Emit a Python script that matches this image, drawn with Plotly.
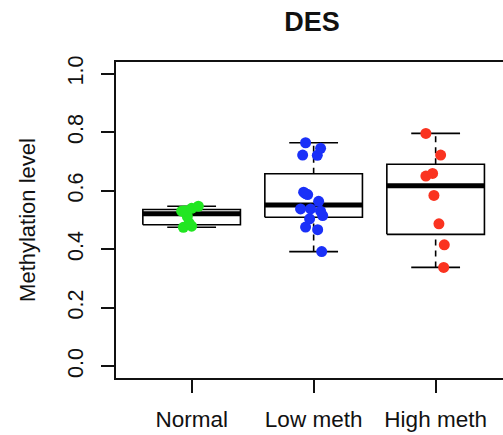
import numpy as np
import plotly.graph_objects as go

# Groups and per-sample methylation levels
groups = ["Normal", "Low meth", "High meth"]
normal_vals = [0.475, 0.479, 0.489, 0.512, 0.530, 0.532, 0.540, 0.547]
low_vals = [0.392, 0.467, 0.476, 0.504, 0.515, 0.530, 0.538, 0.538,
            0.564, 0.587, 0.590, 0.595, 0.721, 0.722, 0.745, 0.764]
high_vals = [0.338, 0.415, 0.487, 0.584, 0.650, 0.659, 0.722, 0.796]

# Horizontal jitter of each sample (in category units)
normal_jit = [-0.068, 0.0, -0.02, -0.035, -0.082, -0.06, 0.0, 0.055]
low_jit = [0.066, 0.033, -0.066, -0.033, 0.074, 0.057, -0.107, -0.025,
           0.041, -0.049, -0.066, -0.082, 0.030, -0.090, 0.057, -0.066]
high_jit = [0.066, 0.071, 0.027, -0.014, -0.080, -0.025, 0.041, -0.080]

yticks = [0.0, 0.2, 0.4, 0.6, 0.8, 1.0]

colors = ["#22e622", "#1a30f8", "#fa3320"]
FONT = "Liberation Sans, Arial, sans-serif"


def box_stats(v, coef=1.5):
    """Tukey hinges and whiskers (as in R's boxplot)."""
    v = np.sort(np.asarray(v, dtype=float))
    n = len(v)
    n4 = np.floor((n + 3) / 2) / 2
    d = np.array([1, n4, (n + 1) / 2, n + 1 - n4, n]) - 1
    fn = 0.5 * (v[np.floor(d).astype(int)] + v[np.ceil(d).astype(int)])
    iqr = fn[3] - fn[1]
    lo = v[v >= fn[1] - coef * iqr].min()
    hi = v[v <= fn[3] + coef * iqr].max()
    return lo, fn[1], fn[2], fn[3], hi


fig = go.Figure()
half, cap = 0.4, 0.2
for i, vals in enumerate([normal_vals, low_vals, high_vals]):
    x0 = i + 1
    lo, q1, med, q3, hi = box_stats(vals)
    # dashed whiskers
    for a, b in [(q3, hi), (lo, q1)]:
        fig.add_trace(go.Scatter(x=[x0, x0], y=[a, b], mode="lines",
                                 line=dict(color="black", width=1.6, dash="6px,5px"),
                                 hoverinfo="skip", showlegend=False))
    # whisker caps
    for w in (lo, hi):
        fig.add_trace(go.Scatter(x=[x0 - cap, x0 + cap], y=[w, w], mode="lines",
                                 line=dict(color="black", width=1.6),
                                 hoverinfo="skip", showlegend=False))
    # box body
    fig.add_trace(go.Scatter(x=[x0 - half, x0 + half, x0 + half, x0 - half, x0 - half],
                             y=[q1, q1, q3, q3, q1], mode="lines",
                             line=dict(color="black", width=1.6),
                             hoverinfo="skip", showlegend=False))
    # median
    fig.add_trace(go.Scatter(x=[x0 - half, x0 + half], y=[med, med], mode="lines",
                             line=dict(color="black", width=5),
                             hoverinfo="skip", showlegend=False))

for i, (vals, jit) in enumerate([(normal_vals, normal_jit),
                                 (low_vals, low_jit),
                                 (high_vals, high_jit)]):
    xs = [i + 1 + j for j in jit]
    fig.add_trace(go.Scatter(x=xs, y=vals, mode="markers",
                             marker=dict(color=colors[i], size=11, line=dict(width=0)),
                             name=groups[i], showlegend=False))

fig.update_layout(
    width=503, height=435,
    margin=dict(l=116, r=0, t=62, b=57),
    paper_bgcolor="white", plot_bgcolor="white",
    font=dict(family=FONT, color="#111111"),
    title=dict(text="<b>DES</b>", x=312 / 503, xanchor="center",
               y=1 - 22 / 435, yanchor="middle", xref="container",
               font=dict(size=27, family=FONT, color="#111111")),
)

fig.update_xaxes(
    range=[0.38, 0.38 + 387 / 122], tickmode="array",
    tickvals=[1, 2, 3], ticktext=groups,
    showgrid=False, zeroline=False,
    showline=True, mirror=True, linecolor="#111111", linewidth=1.5,
    ticks="outside", ticklen=13, tickwidth=1.5, tickcolor="#111111",
    tickfont=dict(size=22.5, family=FONT, color="#111111"),
    ticklabelstandoff=7,
)
fig.update_yaxes(
    range=[-0.04, 1.04], tickmode="array", tickvals=yticks,
    ticktext=[f"{t:.1f}" for t in yticks],
    showgrid=False, zeroline=False,
    showline=True, mirror=False, linecolor="#111111", linewidth=1.5,
    ticks="outside", ticklen=13, tickwidth=1.5, tickcolor="#111111",
    tickangle=-90,
    tickfont=dict(size=21.5, family=FONT, color="#111111"),
    ticklabelstandoff=10,
    title=dict(text="Methylation level", standoff=22,
               font=dict(size=22, family=FONT, color="#111111")),
)

fig.write_html("out.html")
